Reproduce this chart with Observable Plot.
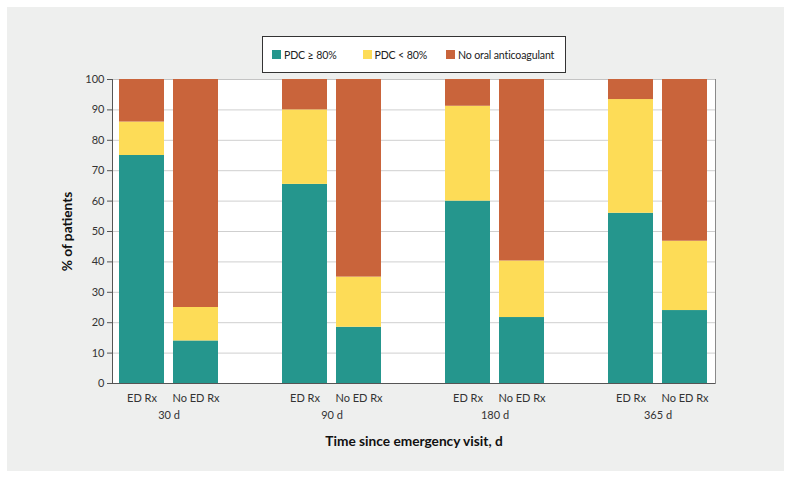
<!DOCTYPE html>
<html>
<head>
<meta charset="utf-8">
<script src="https://cdn.jsdelivr.net/npm/d3@7"></script>
<script src="https://cdn.jsdelivr.net/npm/@observablehq/plot@0.6"></script>
<style>
  html, body { margin: 0; padding: 0; background: #ffffff; }
  body { width: 791px; height: 478px; position: relative; overflow: hidden; font-family: Lato, "Noto Sans", sans-serif; }
  #panel { position: absolute; left: 7px; top: 7px; width: 777px; height: 464px; background: #eeefee; }
  #legend { box-sizing: border-box; margin: 29px 0 0 255px; width: 304px; height: 37px; border: 1px solid #333; background: #fff;
            display: flex; align-items: center; padding-left: 9px; font-size: 10.6px; letter-spacing: -0.15px; color: #222; white-space: nowrap; }
  .item { display: flex; align-items: center; flex: none; }
  .sw { width: 9px; height: 9px; margin-right: 3px; flex: none; }
  #chart svg { display: block; }
  g[aria-label="x-axis label"] text, g[aria-label="y-axis label"] text { font-weight: bold; font-size: 13.7px; fill: #111; }
</style>
</head>
<body>
<div id="panel">
  <div id="legend"></div>
  <div id="chart"></div>
</div>
<script>
const times = ["30 d", "90 d", "180 d", "365 d"];
const groups = ["ED Rx", "No ED Rx"];
const categories = ["PDC ≥ 80%", "PDC < 80%", "No oral anticoagulant"];
const colors = ["#25968d", "#fddc57", "#c9643b"];
// values per bar, order: 30 d ED Rx, 30 d No ED Rx, 90 d ED Rx, ...
const pdcHigh = [75, 14, 65.5, 18.5, 60, 21.7, 56, 24];
const pdcLow  = [11, 11, 24.5, 16.5, 31.2, 18.6, 37.4, 22.8];
const noOAC   = [14, 75, 10, 65, 8.8, 59.7, 6.6, 53.2];
const yTicks = [0, 10, 20, 30, 40, 50, 60, 70, 80, 90, 100];
const gridTicks = [10, 20, 30, 40, 50, 60, 70, 80, 90];

const series = [pdcHigh, pdcLow, noOAC];
const data = [];
times.forEach((t, ti) => {
  groups.forEach((g, gi) => {
    const i = ti * groups.length + gi;
    categories.forEach((c, ci) => {
      data.push({time: t, group: g, category: c, value: series[ci][i]});
    });
  });
});
const groupLabels = [];
times.forEach(t => groups.forEach(g => groupLabels.push({time: t, group: g})));

// legend
const legend = document.getElementById("legend");
const gaps = [26, 19, 0];
categories.forEach((c, i) => {
  const it = document.createElement("div");
  it.className = "item";
  it.style.marginRight = gaps[i] + "px";
  it.innerHTML = `<span class="sw" style="background:${colors[i]}"></span><span></span>`;
  it.lastChild.textContent = c;
  legend.appendChild(it);
});

const chart = Plot.plot({
  width: 777,
  height: 397,
  marginLeft: 105,
  marginRight: 69,
  marginTop: 6,
  marginBottom: 87,
  style: {fontFamily: "Lato, 'Noto Sans', sans-serif", fontSize: "11px", color: "#333", background: "transparent"},
  x: {domain: times, paddingInner: 0.39, paddingOuter: 0.034, axis: null},
  y: {domain: [0, 100], axis: null},
  color: {domain: categories, range: colors},
  marks: [
    Plot.frame({fill: "white", stroke: "#c4c4c4"}),
    Plot.ruleY(gridTicks, {stroke: "#cfcfcf", strokeWidth: 1}),
    Plot.barY(data.filter(d => d.group === groups[0]), {x: "time", y: "value", fill: "category", insetRight: 54}),
    Plot.barY(data.filter(d => d.group === groups[1]), {x: "time", y: "value", fill: "category", insetLeft: 54}),
    Plot.ruleY([0], {stroke: "#555"}),
    Plot.frame({anchor: "left", stroke: "#555"}),
    Plot.frame({anchor: "right", stroke: "#8a8a8a"}),
    Plot.axisY({ticks: yTicks, tickSize: 5, tickPadding: 3, stroke: "#555", label: "% of patients", labelArrow: "none", labelAnchor: "center", labelOffset: 50}),
    Plot.text(groupLabels.filter(d => d.group === groups[0]), {x: "time", text: "group", frameAnchor: "bottom", dy: 15, dx: -27, lineAnchor: "middle", fill: "#333"}),
    Plot.text(groupLabels.filter(d => d.group === groups[1]), {x: "time", text: "group", frameAnchor: "bottom", dy: 15, dx: 27, lineAnchor: "middle", fill: "#333"}),
    Plot.axisX({anchor: "bottom", tickSize: 0, tickPadding: 28, label: "Time since emergency visit, d", labelArrow: "none", labelAnchor: "center", labelOffset: 62})
  ]
});
document.getElementById("chart").appendChild(chart);
</script>
</body>
</html>
